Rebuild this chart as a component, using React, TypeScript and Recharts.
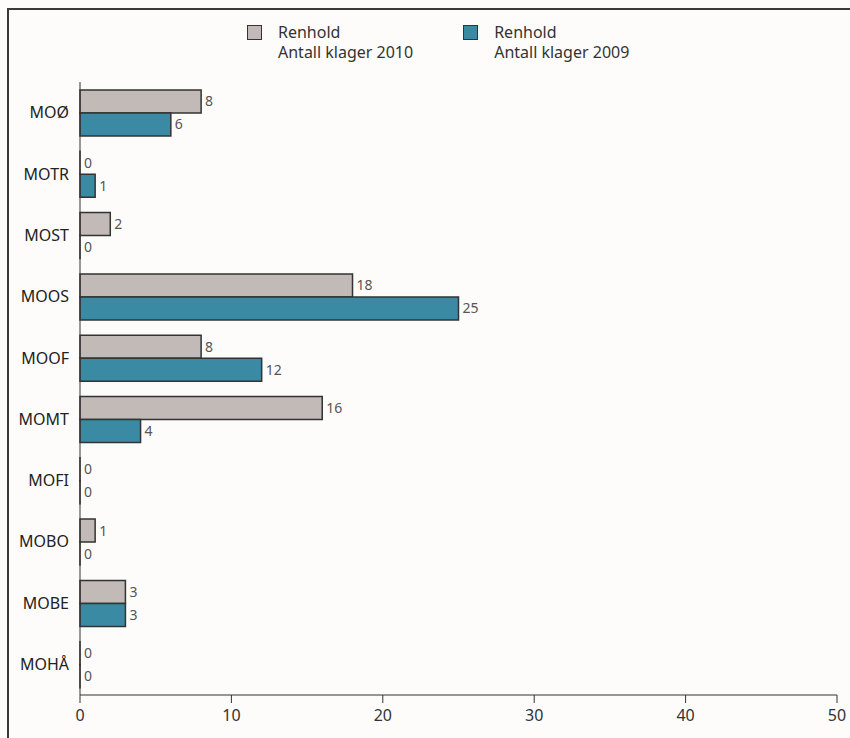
import { BarChart, Bar, XAxis, YAxis, LabelList } from 'recharts'

const UNITS = ['MOØ', 'MOTR', 'MOST', 'MOOS', 'MOOF', 'MOMT', 'MOFI', 'MOBO', 'MOBE', 'MOHÅ']
const CLEANING_2010 = [8, 0, 2, 18, 8, 16, 0, 1, 3, 0]
const CLEANING_2009 = [6, 1, 0, 25, 12, 4, 0, 0, 3, 0]
const X_TICKS = [0, 10, 20, 30, 40, 50]

const GREY = '#c1bab6'
const TEAL = '#3b8aa3'
const FONT = '"Noto Sans", "Open Sans", sans-serif'

const data = UNITS.map((unit, i) => ({
  unit,
  y2010: CLEANING_2010[i],
  y2009: CLEANING_2009[i],
}))

const legendItems = [
  { color: GREY, line1: 'Renhold', line2: 'Antall klager 2010' },
  { color: TEAL, line1: 'Renhold', line2: 'Antall klager 2009' },
]

function LegendBox() {
  return (
    <div
      style={{
        position: 'absolute',
        top: 12,
        left: 238,
        display: 'flex',
        gap: 50,
        fontFamily: FONT,
        fontSize: 16,
        color: '#333',
        lineHeight: '20px',
      }}
    >
      {legendItems.map(item => (
        <div key={item.line2} style={{ display: 'flex', alignItems: 'flex-start' }}>
          <span
            style={{
              width: 13,
              height: 13,
              marginTop: 3,
              marginRight: 16,
              background: item.color,
              border: '1.5px solid #333',
              display: 'inline-block',
            }}
          />
          <div>
            <div>{item.line1}</div>
            <div>{item.line2}</div>
          </div>
        </div>
      ))}
    </div>
  )
}

export default function App() {
  return (
    <div style={{ position: 'relative', width: 850, height: 738, background: '#fdfcfb', overflow: 'hidden' }}>
      <style>{'body{margin:0;overflow:hidden}'}</style>
      <div
        style={{
          position: 'absolute',
          left: 7,
          top: 8,
          width: 843,
          height: 730,
          borderTop: '2px solid #3a3a36',
          borderLeft: '2px solid #3a3a36',
          boxSizing: 'border-box',
        }}
      >
        <LegendBox />
        <BarChart
          width={841}
          height={728}
          data={data}
          layout="vertical"
          margin={{ top: 72, right: 13, bottom: 13, left: 0 }}
          barGap={0}
          barSize={23}
          style={{ overflow: 'visible' }}
        >
          <XAxis
            type="number"
            domain={[0, 50]}
            ticks={X_TICKS}
            interval={0}
            height={30}
            tickSize={8}
            tickMargin={7}
            stroke="#333"
            tick={{ fill: '#333', fontSize: 16, fontFamily: FONT }}
          />
          <YAxis
            type="category"
            dataKey="unit"
            width={71}
            tickLine={false}
            tickSize={0}
            tickMargin={11}
            stroke="#333"
            tick={{ fill: '#222', fontSize: 16, fontFamily: FONT }}
          />
          <Bar dataKey="y2010" fill={GREY} stroke="#333" strokeWidth={1.5} minPointSize={0.01} isAnimationActive={false}>
            <LabelList dataKey="y2010" position="right" offset={4} fill="#555" fontSize={14} fontFamily={FONT} />
          </Bar>
          <Bar dataKey="y2009" fill={TEAL} stroke="#333" strokeWidth={1.5} minPointSize={0.01} isAnimationActive={false}>
            <LabelList dataKey="y2009" position="right" offset={4} fill="#555" fontSize={14} fontFamily={FONT} />
          </Bar>
        </BarChart>
      </div>
    </div>
  )
}
